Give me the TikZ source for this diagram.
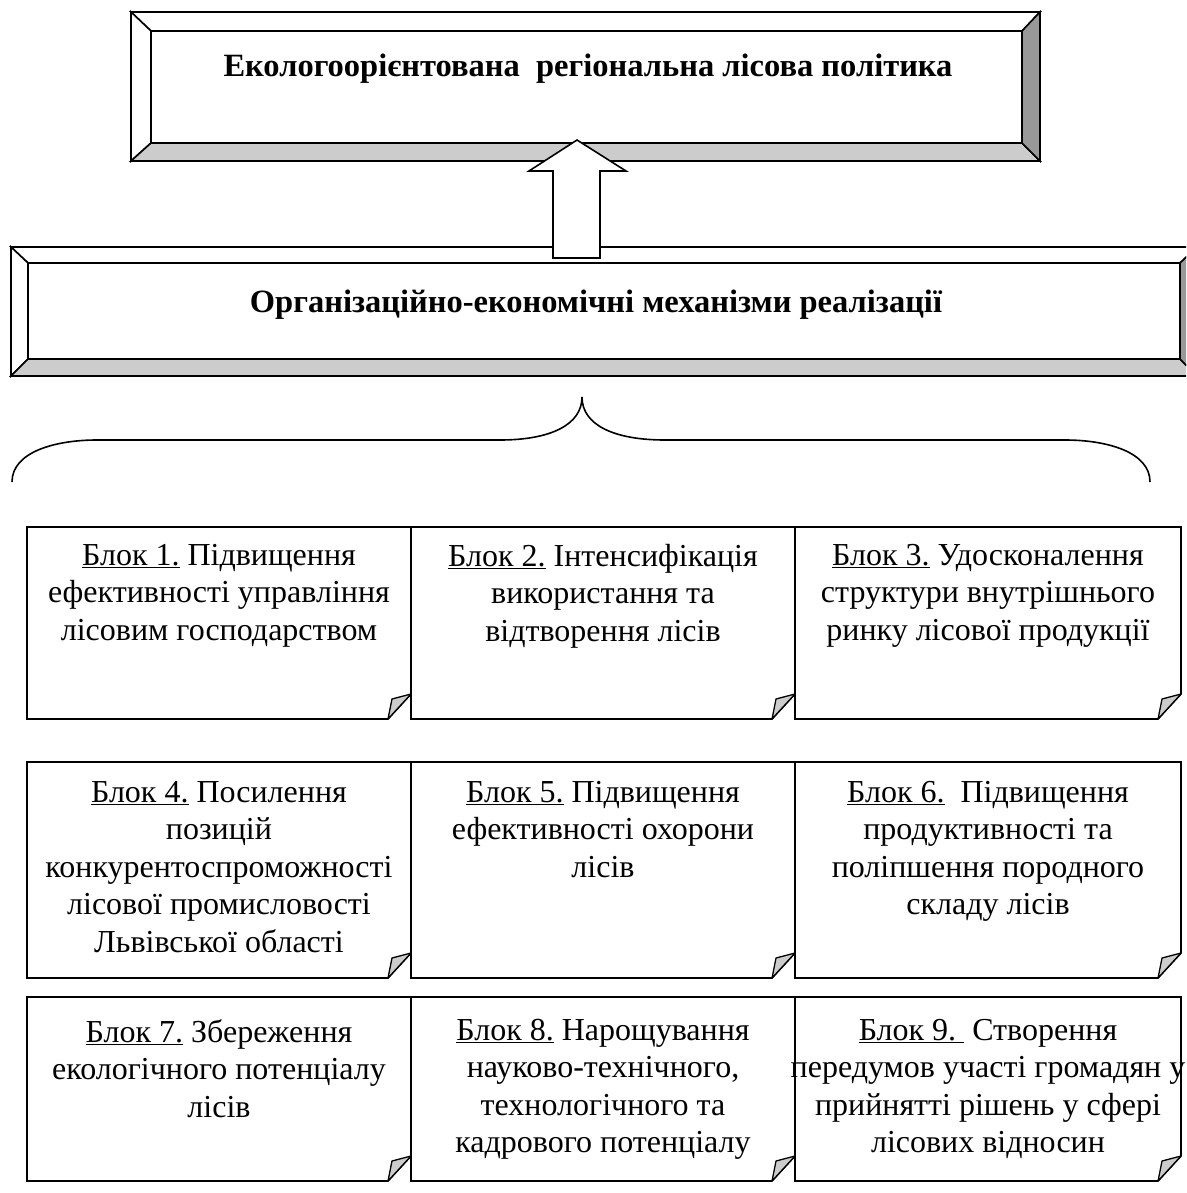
\documentclass[tikz,border=0pt]{standalone}
\usepackage{fontspec}
\setmainfont{Liberation Serif}

\begin{document}
\begin{tikzpicture}[x=1pt,y=-1pt,
  every node/.style={font=\fontsize{32}{37.5}\selectfont},
  ttl/.style={font=\fontsize{32.5}{36}\selectfont\bfseries,anchor=base,inner sep=0pt},
  txt/.style={anchor=north,align=center,inner sep=0pt},
  edge/.style={line width=1.6pt,line join=miter},
  lite/.style={edge,fill=black!20},
  dark/.style={edge,fill=black!40},
  wht/.style={edge,fill=white},
  fold/.style={line width=1.3pt,fill=black!20,line join=round}]

  \clip (0,0) rectangle (1186,1193);

  % Top frame
  \draw[wht] (131,12) -- (1040,12) -- (1022,31) -- (151,31) -- cycle;
  \draw[wht] (131,12) -- (151,31) -- (151,143) -- (131,161) -- cycle;
  \draw[lite] (131,161) -- (151,143) -- (1022,143) -- (1040,161) -- cycle;
  \draw[dark] (1040,12) -- (1040,161) -- (1022,143) -- (1022,31) -- cycle;
  \draw[wht] (151,31) rectangle (1022,143);
  \node[ttl] (pol) at (588,77) {Екологоорієнтована\ \ регіональна лісова політика};

  % Second frame
  \draw[wht] (11,247) -- (1197,247) -- (1180,263) -- (28,263) -- cycle;
  \draw[wht] (11,247) -- (28,263) -- (28,359) -- (11,376) -- cycle;
  \draw[lite] (11,376) -- (28,359) -- (1180,359) -- (1197,376) -- cycle;
  \draw[dark] (1197,247) -- (1197,376) -- (1180,359) -- (1180,263) -- cycle;
  \draw[wht] (28,263) rectangle (1180,359);
  \node[ttl] (mech) at (596,312) {Організаційно-економічні механізми реалізації};

  % Block arrow
  \draw[wht] (577,140) -- (626,171) -- (600,171) -- (600,258) -- (553,258)
    -- (553,171) -- (529,171) -- cycle;

  % Brace
  \draw[edge] (12,482) .. controls (12,452) and (55,440) .. (97,440) -- (500,440)
    .. controls (550,440) and (582,425) .. (582,397)
    .. controls (582,425) and (614,440) .. (665,440) -- (1065,440)
    .. controls (1107,440) and (1150,452) .. (1150,482);

  % Blocks
  \foreach \xa/\ya/\xb/\yb in {27/527/411/719, 411/527/795/719, 795/527/1181/719,
      27/762/411/978, 411/762/795/978, 795/762/1181/978,
      27/997/411/1181, 411/997/795/1181, 795/997/1181/1181} {
    \draw[edge] (\xa,\ya) -- (\xb,\ya) -- (\xb,\yb-25) -- (\xb-23,\yb) -- (\xa,\yb) -- cycle;
    \draw[fold] (\xb,\yb-25) -- (\xb-19,\yb-20) -- (\xb-23,\yb) -- cycle;
  }

  % Row 1
  \node[txt] (t1) at (219,544) {\underline{Блок 1.} Підвищення\\ефективності управління\\лісовим господарством};
  \node[txt] (t2) at (603,544) {\underline{Блок 2.} Інтенсифікація\\використання та\\відтворення лісів};
  \node[txt] (t3) at (988,544) {\underline{Блок 3.} Удосконалення\\структури внутрішнього\\ринку лісової продукції};

  % Row 2
  \node[txt] (t4) at (219,781) {\underline{Блок 4.} Посилення\\позицій\\конкурентоспроможності\\лісової промисловості\\Львівської області};
  \node[txt] (t5) at (603,781) {\underline{Блок 5.} Підвищення\\ефективності охорони\\лісів};
  \node[txt] (t6) at (988,781) {\underline{Блок 6.}\ \ Підвищення\\продуктивності та\\поліпшення породного\\складу лісів};

  % Row 3
  \node[txt] (t7) at (219,1019) {\underline{Блок 7.} Збереження\\екологічного потенціалу\\лісів};
  \node[txt] (t8) at (603,1019) {\underline{Блок 8.} Нарощування\\науково-технічного,\\технологічного та\\кадрового потенціалу};
  \node[txt] (t9) at (988,1019) {\underline{Блок 9.\ } Створення\\передумов участі громадян у\\прийнятті рішень у сфері\\лісових відносин};

\end{tikzpicture}
\end{document}
